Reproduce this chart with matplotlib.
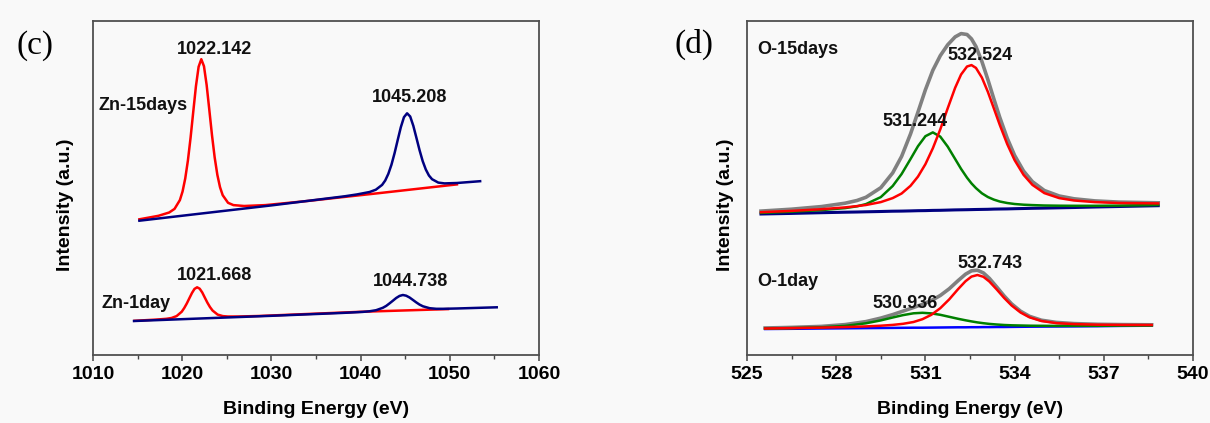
import matplotlib
matplotlib.use("Agg")
import matplotlib.pyplot as plt
from matplotlib.ticker import MultipleLocator

plt.rcParams['font.family'] = ['Liberation Sans', 'DejaVu Sans']
plt.rcParams['font.weight'] = 'bold'

# ---- (c) Zn 2p, intensity in arbitrary units ----
zn15_red_e = [1015.2, 1017.34, 1018.54, 1019.14, 1019.74, 1020.04, 1020.34, 1020.64,
              1020.94, 1021.24, 1021.54, 1021.84, 1022.14, 1022.44, 1022.74, 1023.04,
              1023.34, 1023.64, 1023.94, 1024.24, 1024.54, 1025.14, 1025.74, 1026.94,
              1029.34, 1034.14, 1042.0, 1050.8]
zn15_red_i = [135.7, 139.2, 142.5, 146.1, 154.9, 163.5, 176.5, 194.5,
              217.4, 243.3, 268.8, 288.2, 295.8, 288.8, 270.0, 245.1,
              219.8, 197.6, 180.2, 167.8, 159.8, 152.2, 149.9, 149.0,
              149.9, 154.1, 161.8, 170.6]

zn15_blue_e = [1015.2, 1030.0, 1038.21, 1039.61, 1041.01, 1041.71, 1042.41, 1042.76,
               1043.11, 1043.46, 1043.81, 1044.16, 1044.51, 1044.86, 1045.21, 1045.56,
               1045.91, 1046.26, 1046.61, 1046.96, 1047.31, 1047.66, 1048.01, 1048.71,
               1049.41, 1050.81, 1053.4]
zn15_blue_i = [134.3, 149.6, 158.7, 160.6, 163.0, 165.3, 170.1, 174.5,
               181.2, 190.3, 201.9, 215.0, 227.8, 237.8, 241.7, 238.5,
               229.2, 217.1, 204.8, 193.9, 185.5, 179.5, 175.8, 172.4,
               171.6, 172.0, 173.8]

zn1_red_e = [1014.65, 1017.07, 1018.22, 1018.8, 1019.37, 1019.95, 1020.23, 1020.52,
             1020.81, 1021.1, 1021.38, 1021.67, 1021.96, 1022.25, 1022.53, 1022.82,
             1023.11, 1023.4, 1023.97, 1024.55, 1025.12, 1026.27, 1028.57, 1040.0, 1049.8]
zn1_red_i = [34.2, 35.4, 36.2, 37.0, 38.9, 43.3, 47.0, 51.6,
             56.9, 62.1, 66.1, 67.7, 66.3, 62.5, 57.5, 52.4,
             48.0, 44.5, 40.4, 38.9, 38.5, 38.5, 39.0, 43.2, 45.9]

zn1_blue_e = [1014.6, 1030.0, 1037.24, 1038.74, 1040.24, 1040.99, 1041.74, 1042.49,
              1042.87, 1043.24, 1043.62, 1043.99, 1044.37, 1044.74, 1045.11, 1045.49,
              1045.86, 1046.24, 1046.61, 1046.99, 1047.74, 1048.49, 1049.24, 1050.74, 1055.26]
zn1_blue_i = [34.0, 39.2, 41.8, 42.4, 43.1, 43.7, 44.8, 47.2,
              49.1, 51.6, 54.3, 57.0, 59.1, 60.0, 59.3, 57.5,
              55.1, 52.6, 50.4, 48.7, 46.8, 46.2, 46.2, 46.5, 47.7]

# ---- (d) O 1s ----
o15_e = [525.47, 526.5, 527.5, 528.3, 528.7, 529.0, 529.5, 529.9, 530.2, 530.5, 530.75,
         531.0, 531.25, 531.5, 531.75, 532.0, 532.2, 532.4, 532.55, 532.7, 532.9,
         533.1, 533.3, 533.5, 533.75, 534.0, 534.3, 534.6, 535.0, 535.5, 536.0,
         536.7, 537.5, 538.83]
o15_base = [141.0, 141.6, 142.3, 142.8, 143.0, 143.2, 143.5, 143.8, 143.9, 144.1, 144.3,
            144.4, 144.6, 144.7, 144.9, 145.1, 145.2, 145.3, 145.4, 145.5, 145.6,
            145.7, 145.9, 146.0, 146.1, 146.3, 146.5, 146.7, 146.9, 147.2, 147.5,
            148.0, 148.5, 149.3]
o15_red = [142.8, 144.1, 145.8, 147.6, 148.9, 150.0, 152.9, 156.9, 161.5, 169.2, 178.4,
           190.8, 206.7, 225.6, 246.7, 267.2, 280.5, 288.5, 289.9, 287.1, 277.4,
           263.2, 246.8, 230.2, 211.0, 194.9, 180.2, 170.1, 161.9, 156.9, 154.5,
           152.9, 152.0, 151.6]
o15_green = [142.1, 143.3, 144.9, 146.9, 148.7, 150.9, 157.9, 169.0, 181.0, 196.0, 208.8,
             218.8, 222.6, 218.4, 208.4, 196.0, 186.1, 177.3, 171.6, 166.9, 161.7,
             158.0, 155.4, 153.5, 152.0, 151.0, 150.3, 149.9, 149.5, 149.3, 149.2,
             149.2, 149.4, 150.0]
o15_grey = [143.9, 145.8, 148.4, 151.8, 154.5, 157.7, 167.3, 182.1, 198.6, 221.1, 242.9,
            265.2, 284.7, 299.3, 310.2, 318.1, 321.4, 320.5, 316.1, 308.5, 293.5,
            275.5, 256.3, 237.7, 216.9, 199.6, 184.0, 173.3, 164.5, 159.0, 156.2,
            154.1, 152.9, 152.2]

o1_e = [525.61, 526.5, 527.5, 528.3, 529.0, 529.5, 529.9, 530.25, 530.6, 530.9,
        531.2, 531.5, 531.8, 532.1, 532.35, 532.55, 532.75, 532.95, 533.15, 533.4,
        533.65, 533.9, 534.2, 534.5, 534.9, 535.4, 536.0, 536.8, 537.6, 538.61]
o1_base = [26.0, 26.2, 26.5, 26.7, 26.9, 27.0, 27.1, 27.2, 27.3, 27.3,
           27.4, 27.5, 27.6, 27.7, 27.7, 27.8, 27.8, 27.9, 27.9, 28.0,
           28.0, 28.1, 28.2, 28.3, 28.4, 28.5, 28.6, 28.8, 29.1, 29.3]
o1_red = [26.5, 26.9, 27.4, 27.9, 28.6, 29.3, 30.1, 31.2, 33.0, 35.8,
          40.2, 46.8, 55.6, 65.9, 73.8, 78.4, 80.0, 78.2, 73.5, 65.5,
          57.0, 49.5, 42.5, 37.7, 34.0, 31.9, 30.9, 30.3, 30.1, 30.0]
o1_green = [26.5, 26.9, 27.7, 29.1, 31.7, 34.6, 37.5, 39.9, 41.7, 42.2,
            41.6, 40.2, 38.2, 36.2, 34.7, 33.6, 32.6, 31.8, 31.1, 30.5,
            30.0, 29.7, 29.5, 29.3, 29.2, 29.1, 29.2, 29.2, 29.4, 29.5]
o1_grey = [27.0, 27.6, 28.6, 30.4, 33.4, 36.9, 40.4, 43.9, 47.5, 50.7,
           54.4, 59.5, 66.2, 74.4, 80.8, 84.2, 84.8, 82.1, 76.7, 68.0,
           59.0, 51.1, 43.8, 38.7, 34.8, 32.6, 31.4, 30.7, 30.4, 30.2]

# annotations: (text, x, y)
zn_labels = [("1022.142", 1023.62, 305), ("1045.208", 1045.54, 257),
             ("1021.668", 1023.64, 79), ("1044.738", 1045.65, 73)]
zn_names = [("Zn-15days", 1010.67, 250), ("Zn-1day", 1010.9, 52)]
o_labels = [("532.524", 532.85, 300), ("531.244", 530.66, 233),
            ("532.743", 533.17, 92), ("530.936", 530.32, 52)]
o_names = [("O-15days", 525.36, 306), ("O-1day", 525.35, 74)]

BG = '#f9f9f9'


def styleAxes(ax, xlim, major, minor, ylab_x):
    ax.set_facecolor(BG)
    ax.set_xlim(*xlim)
    ax.set_ylim(0, 334)
    ax.set_yticks([])
    ax.xaxis.set_major_locator(MultipleLocator(major))
    ax.xaxis.set_minor_locator(MultipleLocator(minor))
    ax.tick_params(axis='x', which='major', direction='out', length=4.5, width=1.1,
                   color='#444444', labelsize=14, pad=3.5)
    ax.tick_params(axis='x', which='minor', direction='out', length=3, width=1.0,
                   color='#444444')
    for s in ax.spines.values():
        s.set_color('#505050')
        s.set_linewidth(1.3)
    ax.set_xlabel("Binding Energy (eV)", fontsize=14, fontweight='bold', labelpad=13)
    ax.set_ylabel("Intensity (a.u.)", fontsize=14, fontweight='bold')
    ax.yaxis.set_label_coords(ylab_x, 0.45)


def putText(ax, items, ha):
    for t, x, y in items:
        ax.text(x, y, t, ha=ha, va='center', fontsize=13, fontweight='bold', color='#111111')


fig = plt.figure(figsize=(12.1, 4.23), dpi=100, facecolor=BG)
axc = fig.add_axes([93 / 1210, 68 / 423, 446 / 1210, 334 / 423])
axd = fig.add_axes([747 / 1210, 68 / 423, 446 / 1210, 334 / 423])

# panel (c)
axc.plot(zn15_red_e, zn15_red_i, color='#ff0000', lw=1.8)
axc.plot(zn15_blue_e, zn15_blue_i, color='#000080', lw=1.8)
axc.plot(zn1_red_e, zn1_red_i, color='#ff0000', lw=1.8)
axc.plot(zn1_blue_e, zn1_blue_i, color='#000080', lw=1.8)
styleAxes(axc, (1010, 1060), 10, 5, -0.043)
putText(axc, zn_labels, 'center')
putText(axc, zn_names, 'left')

# panel (d)
axd.plot(o15_e, o15_base, color='#000080', lw=2.2)
axd.plot(o15_e, o15_grey, color='#808080', lw=2.6)
axd.plot(o15_e, o15_green, color='#008000', lw=1.8)
axd.plot(o15_e, o15_red, color='#ff0000', lw=1.8)
axd.plot(o1_e, o1_base, color='#0000ff', lw=1.8)
axd.plot(o1_e, o1_grey, color='#808080', lw=2.6)
axd.plot(o1_e, o1_green, color='#008000', lw=1.8)
axd.plot(o1_e, o1_red, color='#ff0000', lw=1.8)
styleAxes(axd, (525, 540), 3, 1.5, -0.029)
putText(axd, o_labels, 'center')
putText(axd, o_names, 'left')

fig.text(17 / 1210, 1 - 46 / 423, "(c)", family='Liberation Serif', fontweight='normal',
         fontsize=24, ha='left', va='center')
fig.text(674 / 1210, 1 - 44 / 423, "(d)", family='Liberation Serif', fontweight='normal',
         fontsize=24, ha='left', va='center')

fig.savefig("out.png", dpi=100, facecolor=BG)
